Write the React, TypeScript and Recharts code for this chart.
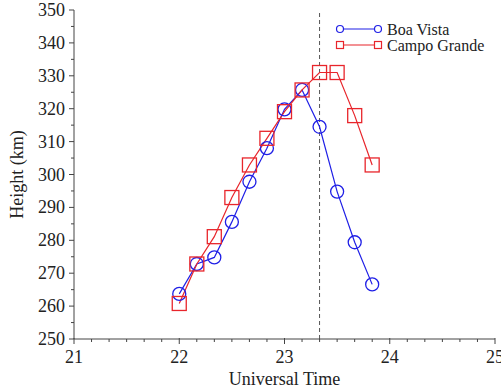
import React from 'react';
import {
  LineChart, Line, XAxis, YAxis, ReferenceLine,
} from 'recharts';

// Universal Time (hours)
const times = [22, 22.167, 22.333, 22.5, 22.667, 22.833, 23, 23.167, 23.333, 23.5, 23.667, 23.833];
const boaVista = [263.7, 272.8, 274.8, 285.6, 297.8, 308, 319.8, 325.7, 314.5, 294.8, 279.4, 266.6];
const campoGrande = [260.8, 272.8, 281.1, 293, 302.9, 311, 319.1, 325.7, 331, 331, 317.9, 302.9];

const xMajor = [21, 22, 23, 24, 25];
const yMajor = [250, 260, 270, 280, 290, 300, 310, 320, 330, 340, 350];
const markerTime = 23.333;

const xTicks: number[] = [];
for (let i = 0; i <= 24; i++) xTicks.push(21 + i / 6);
const yTicks: number[] = [];
for (let v = 250; v <= 350; v += 5) yTicks.push(v);

const data = times.map((t, i) => ({ t, bv: boaVista[i], cg: campoGrande[i] }));

const BLUE = '#1f1fe6';
const RED = '#e8252b';
const AXIS = '#444';
const FONT = '"Liberation Serif", "DejaVu Serif", serif';

const isMajorX = (v: number) => xMajor.some(m => Math.abs(m - v) < 1e-6);
const isMajorY = (v: number) => yMajor.includes(v);

const BottomTick = (props: any) => {
  const { x, y, payload } = props;
  const major = isMajorX(payload.value);
  return (
    <g>
      <line x1={x} y1={y - (major ? 1 : 0)} x2={x} y2={y + (major ? 5 : 3)} stroke={AXIS} />
      {major && (
        <text x={x} y={y + 24} textAnchor="middle" fontSize={18} fontFamily={FONT} fill="#222">
          {Math.round(payload.value)}
        </text>
      )}
    </g>
  );
};

const TopTick = (props: any) => {
  const { x, y, payload } = props;
  const major = isMajorX(payload.value);
  return <line x1={x} y1={y} x2={x} y2={y - (major ? 5 : 3)} stroke={AXIS} />;
};

const LeftTick = (props: any) => {
  const { x, y, payload } = props;
  const major = isMajorY(payload.value);
  return (
    <g>
      <line x1={x} y1={y} x2={x - (major ? 5 : 3)} y2={y} stroke={AXIS} />
      {major && (
        <text x={x - 9} y={y + 6} textAnchor="end" fontSize={18} fontFamily={FONT} fill="#222">
          {payload.value}
        </text>
      )}
    </g>
  );
};

const RightTick = (props: any) => {
  const { x, y, payload } = props;
  const major = isMajorY(payload.value);
  return <line x1={x} y1={y} x2={x + (major ? 5 : 3)} y2={y} stroke={AXIS} />;
};

const SquareDot = (props: any) => {
  const { cx, cy, index } = props;
  if (cx == null || cy == null) return <g key={index} />;
  return (
    <rect key={index} x={cx - 7} y={cy - 7} width={14} height={14}
      fill="none" stroke={RED} strokeWidth={1.3} />
  );
};

const LegendBox = () => (
  <svg width={160} height={36} style={{ overflow: 'visible', display: 'block' }}>
    <line x1={6} y1={8} x2={44} y2={8} stroke={BLUE} strokeWidth={1.2} />
    <circle cx={6} cy={8} r={3.5} fill="#fff" stroke={BLUE} strokeWidth={1.2} />
    <circle cx={44} cy={8} r={3.5} fill="#fff" stroke={BLUE} strokeWidth={1.2} />
    <text x={53} y={14} fontSize={16} fontFamily={FONT} fill="#222">Boa Vista</text>
    <line x1={6} y1={24} x2={44} y2={24} stroke={RED} strokeWidth={1.2} />
    <rect x={2.5} y={20.5} width={7} height={7} fill="#fff" stroke={RED} strokeWidth={1.2} />
    <rect x={40.5} y={20.5} width={7} height={7} fill="#fff" stroke={RED} strokeWidth={1.2} />
    <text x={53} y={30} fontSize={16} fontFamily={FONT} fill="#222">Campo Grande</text>
  </svg>
);

export default function App() {
  return (
    <div style={{ position: 'absolute', left: 0, top: 0, width: 501, height: 389, background: '#fff' }}>
      <LineChart width={501} height={389} data={data}
        margin={{ top: 10, right: 6, bottom: 0, left: 0 }}>
        <XAxis dataKey="t" type="number" domain={[21, 25]} ticks={xTicks}
          interval={0} height={50} tickLine={false} tickSize={0} tickMargin={0}
          stroke={AXIS} tick={<BottomTick />}
          label={{ value: 'Universal Time', position: 'insideBottom', offset: 0, dy: -4,
            style: { fontSize: 18, fontFamily: FONT, fill: '#222' } }} />
        <XAxis xAxisId="top" orientation="top" dataKey="t" type="number" domain={[21, 25]}
          ticks={xTicks} interval={0} height={0} tickLine={false} tickSize={0} tickMargin={0}
          stroke={AXIS} tick={<TopTick />} />
        <YAxis type="number" domain={[250, 350]} ticks={yTicks} interval={0} width={74}
          tickLine={false} tickSize={0} tickMargin={0} stroke={AXIS} tick={<LeftTick />}
          label={{ value: 'Height (km)', angle: -90, position: 'insideLeft', offset: 17,
            style: { fontSize: 18, fontFamily: FONT, fill: '#222', textAnchor: 'middle' } }} />
        <YAxis yAxisId="right" orientation="right" type="number" domain={[250, 350]}
          ticks={yTicks} interval={0} width={0} tickLine={false} tickSize={0} tickMargin={0}
          stroke={AXIS} tick={<RightTick />} />
        <ReferenceLine x={markerTime} stroke="#555" strokeDasharray="4 3" />
        <Line dataKey="bv" stroke={BLUE} strokeWidth={1.2}
          dot={{ r: 6.5, fill: 'none', stroke: BLUE, strokeWidth: 1.3 }}
          activeDot={false} isAnimationActive={false} />
        <Line dataKey="cg" stroke={RED} strokeWidth={1.2} dot={<SquareDot />}
          activeDot={false} isAnimationActive={false} />
      </LineChart>
      <div style={{ position: 'absolute', left: 334, top: 21 }}>
        <LegendBox />
      </div>
    </div>
  );
}
